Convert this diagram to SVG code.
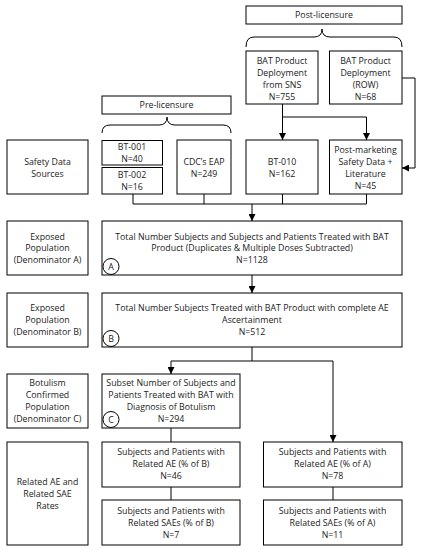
<svg xmlns="http://www.w3.org/2000/svg" width="422" height="550" viewBox="0 0 422 550">
<defs>
<marker id="ah" viewBox="0 0 10 10" refX="10" refY="5" markerWidth="7" markerHeight="7" markerUnits="userSpaceOnUse" orient="auto">
<path d="M0,0 L10,5 L0,10 z" fill="#000"/>
</marker>
</defs>
<style>
rect{fill:#fff;stroke:#000;stroke-width:1}
text{font-family:"Open Sans","Liberation Sans",sans-serif;font-size:8.8px;fill:#222;text-anchor:middle}
.c{fill:none;stroke:#000;stroke-width:1}
.a{fill:none;stroke:#000;stroke-width:1;marker-end:url(#ah)}
circle{fill:#fff;stroke:#000;stroke-width:1}
</style>
<rect width="422" height="550" style="fill:#fff;stroke:none"/>
<g id="connectors">
<path class="c" d="M246,47 Q246,37 254,37 L314,37 Q322,37 322,29 Q322,37 330,37 L394,37 Q402,37 402,47"/>
<path class="c" d="M102,133 Q102,125 110,125 L159,125 Q167,125 167,117 Q167,125 175,125 L223,125 Q231,125 231,133"/>
<path class="a" d="M282.5,104 L282.5,140"/>
<path class="a" d="M282.5,117 L366.5,117 L366.5,140"/>
<path class="c" d="M402,78 L415,78 L415,168"/>
<path class="a" d="M415,168 L402,168"/>
<path class="c" d="M133,194 L133,204 L366.5,204 L366.5,194 M204,194 L204,204 M282.5,194 L282.5,204"/>
<path class="a" d="M252,204 L252,221"/>
<path class="a" d="M252,275 L252,293"/>
<path class="c" d="M252,347 L252,361"/>
<path class="a" d="M171,361 L171,374"/>
<path class="c" d="M171,361 L333,361"/>
<path class="a" d="M333,361 L333,442"/>
<path class="c" d="M171,428 L171,442 M171,487 L171,500 M333,487 L333,500"/>
</g>
<g id="post-licensure"><rect x="246" y="6" width="156" height="18"/><text x="324" y="18">Post-licensure</text></g>
<g id="sns"><rect x="246" y="51" width="72" height="53"/><text x="282" y="63.5">BAT Product</text><text x="282" y="75.5">Deployment</text><text x="282" y="87.5">from SNS</text><text x="282" y="99.5">N=755</text></g>
<g id="row"><rect x="329.5" y="51" width="72.5" height="53"/><text x="365.5" y="63.5">BAT Product</text><text x="365.5" y="75.5">Deployment</text><text x="365.5" y="87.5">(ROW)</text><text x="365.5" y="99.5">N=68</text></g>
<g id="pre-licensure"><rect x="102" y="96" width="129" height="18"/><text x="166.5" y="108">Pre-licensure</text></g>
<g id="safety-sources"><rect x="7" y="140" width="81" height="54"/><text x="47.5" y="165">Safety Data</text><text x="47.5" y="177">Sources</text></g>
<g id="bt001"><rect x="102" y="140.5" width="60.5" height="24.5"/><text x="132" y="150">BT-001</text><text x="132" y="162">N=40</text></g>
<g id="bt002"><rect x="102" y="167.5" width="60.5" height="26.5"/><text x="132" y="178">BT-002</text><text x="132" y="190">N=16</text></g>
<g id="cdc"><rect x="177" y="140" width="54" height="54"/><text x="204" y="165">CDC’s EAP</text><text x="204" y="177">N=249</text></g>
<g id="bt010"><rect x="246" y="140" width="72" height="54"/><text x="282" y="165">BT-010</text><text x="282" y="177">N=162</text></g>
<g id="postmarketing"><rect x="329.5" y="140" width="72.5" height="54"/><text x="365.5" y="153">Post-marketing</text><text x="365.5" y="165">Safety Data +</text><text x="365.5" y="177">Literature</text><text x="365.5" y="189">N=45</text></g>
<g id="exposed-a-label"><rect x="7" y="221" width="81" height="54"/><text x="47.5" y="239.5">Exposed</text><text x="47.5" y="251">Population</text><text x="47.5" y="263">(Denominator A)</text></g>
<g id="box-a"><rect x="102" y="221" width="300" height="54"/><text x="252" y="239.5">Total Number Subjects and Subjects and Patients Treated with BAT</text><text x="252" y="251">Product (Duplicates &amp; Multiple Doses Subtracted)</text><text x="252" y="263">N=1128</text><circle cx="111" cy="266.5" r="8"/><text x="111" y="269.5">A</text></g>
<g id="exposed-b-label"><rect x="7" y="293" width="81" height="54"/><text x="47.5" y="311">Exposed</text><text x="47.5" y="323">Population</text><text x="47.5" y="335">(Denominator B)</text></g>
<g id="box-b"><rect x="102" y="293" width="300" height="54"/><text x="252" y="311">Total Number Subjects Treated with BAT Product with complete AE</text><text x="252" y="323">Ascertainment</text><text x="252" y="335">N=512</text><circle cx="111" cy="338.5" r="8"/><text x="111" y="341.5">B</text></g>
<g id="botulism-label"><rect x="7" y="374" width="81" height="54"/><text x="47.5" y="386">Botulism</text><text x="47.5" y="398">Confirmed</text><text x="47.5" y="410">Population</text><text x="47.5" y="422">(Denominator C)</text></g>
<g id="box-c"><rect x="102" y="374" width="138" height="54"/><text x="171" y="386">Subset Number of Subjects and</text><text x="171" y="398">Patients Treated with BAT with</text><text x="171" y="410">Diagnosis of Botulism</text><text x="171" y="422">N=294</text><circle cx="111" cy="419.5" r="8"/><text x="111" y="422.5">C</text></g>
<g id="rates-label"><rect x="7" y="442" width="81" height="103"/><text x="47.5" y="484.5">Related AE and</text><text x="47.5" y="496.5">Related SAE</text><text x="47.5" y="508.5">Rates</text></g>
<g id="ae-b"><rect x="102" y="442" width="138" height="45"/><text x="171" y="455">Subjects and Patients with</text><text x="171" y="467">Related AE (% of B)</text><text x="171" y="479">N=46</text></g>
<g id="sae-b"><rect x="102" y="500" width="138" height="45"/><text x="171" y="513.5">Subjects and Patients with</text><text x="171" y="525.5">Related SAEs (% of B)</text><text x="171" y="537.5">N=7</text></g>
<g id="ae-a"><rect x="263.5" y="442" width="138.5" height="45"/><text x="332.5" y="455">Subjects and Patients with</text><text x="332.5" y="467">Related AE (% of A)</text><text x="332.5" y="479">N=78</text></g>
<g id="sae-a"><rect x="263.5" y="500" width="138.5" height="45"/><text x="332.5" y="513.5">Subjects and Patients with</text><text x="332.5" y="525.5">Related SAEs (% of A)</text><text x="332.5" y="537.5">N=11</text></g>
</svg>
